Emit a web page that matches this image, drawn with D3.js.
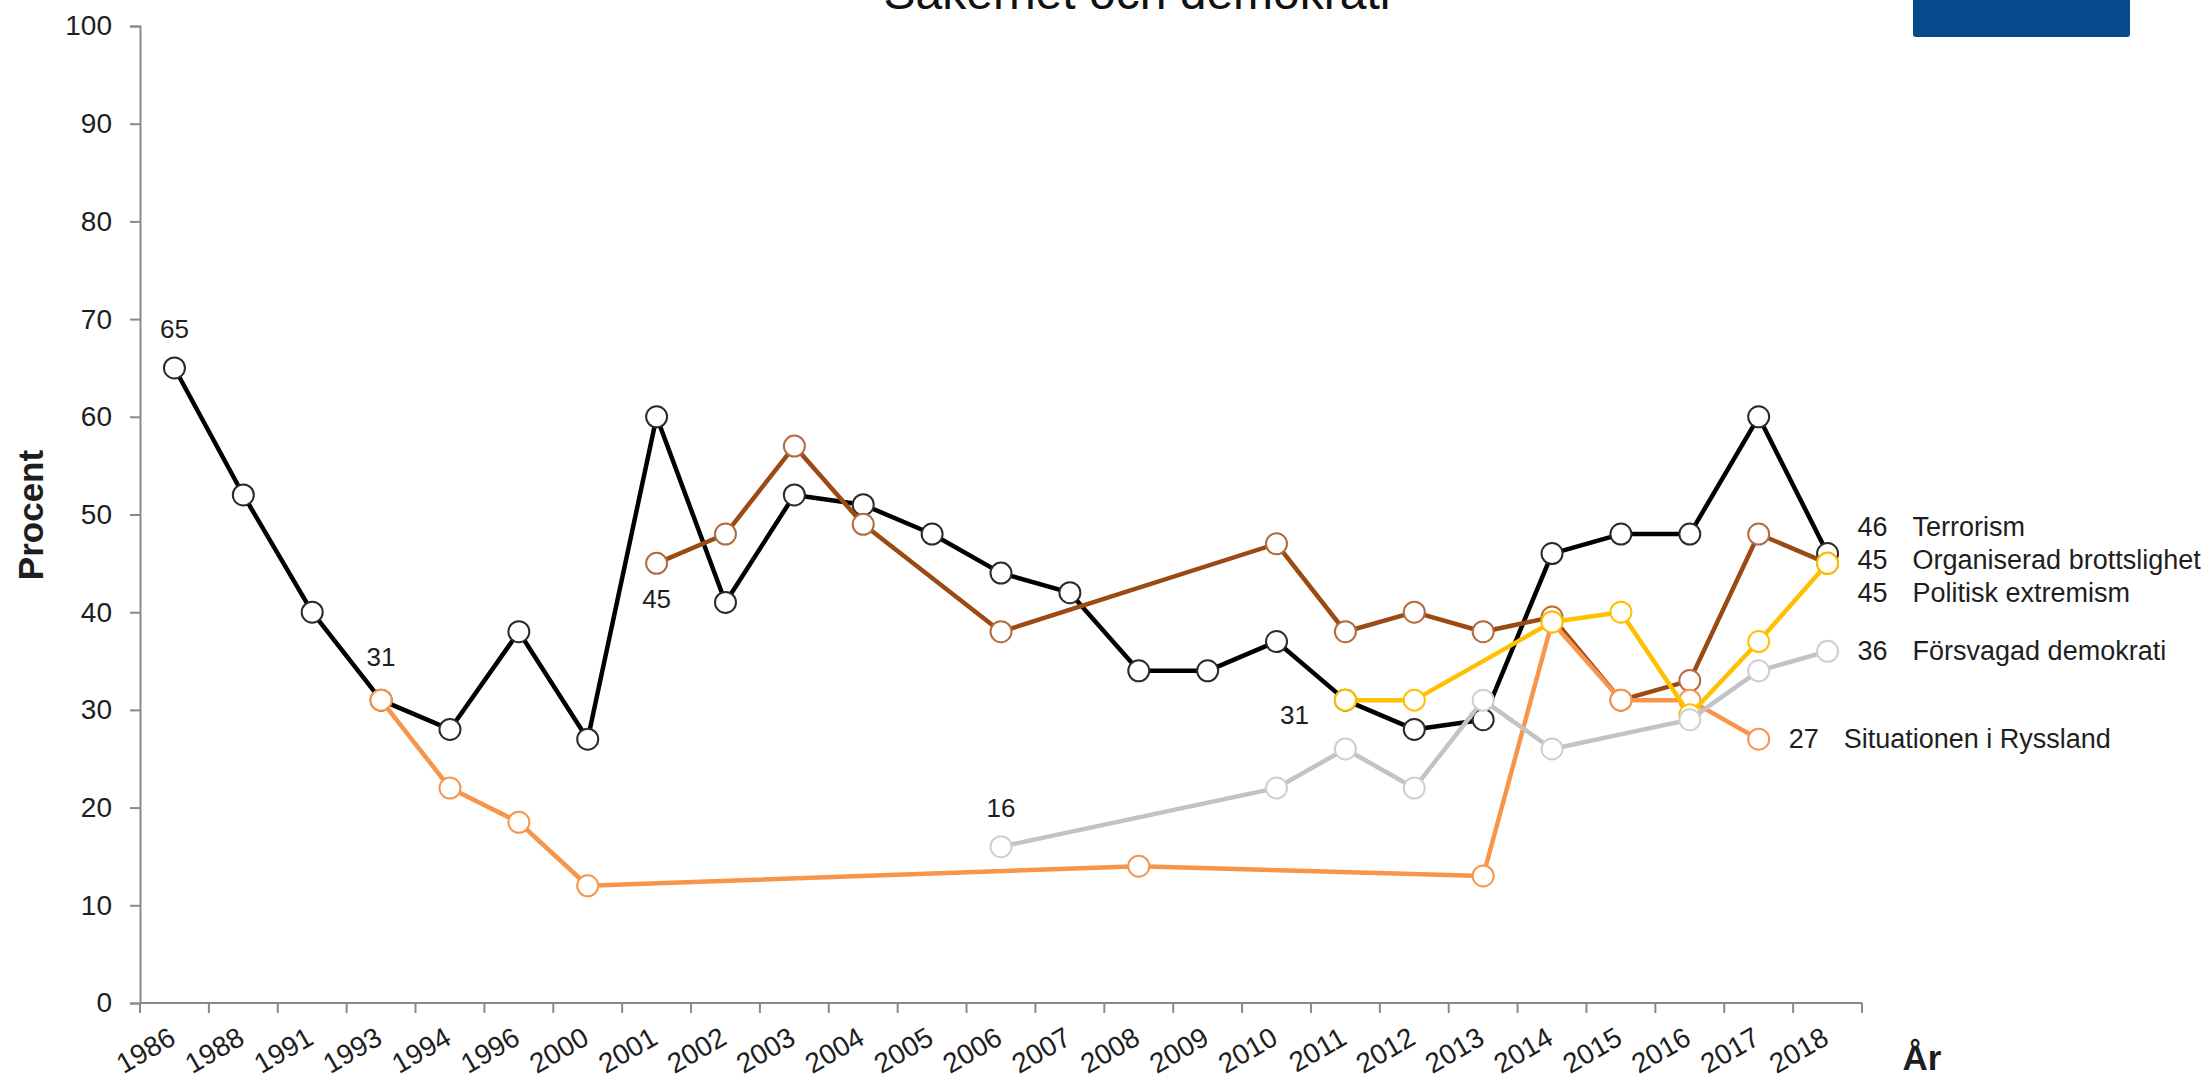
<!DOCTYPE html>
<html>
<head>
<meta charset="utf-8">
<script src="https://cdn.jsdelivr.net/npm/d3@7"></script>
<style>
  body { margin: 0; background: #fff; }
  svg { display: block; font-family: "Liberation Sans", Arial, sans-serif; }
</style>
</head>
<body>
<svg id="chart" width="2211" height="1079"></svg>
<script>
const years = ["1986", "1988", "1991", "1993", "1994", "1996", "2000", "2001", "2002", "2003", "2004", "2005", "2006",
  "2007", "2008", "2009", "2010", "2011", "2012", "2013", "2014", "2015", "2016", "2017", "2018"];
const yTicks = [0, 10, 20, 30, 40, 50, 60, 70, 80, 90, 100];

const seriesNames = ["Terrorism", "Organiserad brottslighet", "Situationen i Ryssland", "Politisk extremism", "Försvagad demokrati"];
const terrorism = [65, 52, 40, 31, 28, 38, 27, 60, 41, 52, 51, 48, 44, 42, 34, 34, 37, 31, 28, 29, 46, 48, 48, 60, 46];
const organiserad = [null, null, null, null, null, null, null, 45, 48, 57, 49, null, 38, null, null, null, 47, 38, 40, 38, 39.5, 31, 33, 48, 45];
const ryssland = [null, null, null, 31, 22, 18.5, 12, null, null, null, null, null, null, null, 14, null, null, null, null, 13, 39, 31, 31, 27, null];
const politisk = [null, null, null, null, null, null, null, null, null, null, null, null, null, null, null, null, null, 31, 31, null, 39, 40, 29.5, 37, 45];
const forsvagad = [null, null, null, null, null, null, null, null, null, null, null, null, 16, null, null, null, 22, 26, 22, 31, 26, null, 29, 34, 36];
const endValues = [46, 45, 27, 45, 36];

// inline value labels: [series, year, text]
const notes = [
  ["Terrorism", "1986", "65"],
  ["Terrorism", "1993", "31"],
  ["Organiserad brottslighet", "2001", "45"],
  ["Försvagad demokrati", "2006", "16"],
  ["Politisk extremism", "2011", "31"],
];

const values = [terrorism, organiserad, ryssland, politisk, forsvagad];
const lineColor = ["#000000", "#9a4a12", "#f7954a", "#ffc000", "#c3c3c3"];
const markColor = ["#2a2a2a", "#b36a3e", "#f7954a", "#ffc000", "#cfcfcf"];
const noteOffset = { "1986": [0, -39], "1993": [0, -43], "2001": [0, 36], "2006": [0, -39], "2011": [-51, 15] };

const svg = d3.select("#chart");
const plotLeft = 140, plotRight = 1862, plotTop = 26, plotBottom = 1003;
const textColor = "#1e1e1e";
const axisColor = "#8a8a8a";

const x = d3.scaleBand().domain(years).range([plotLeft, plotRight]).padding(0);
const cx = (yr) => x(yr) + x.bandwidth() / 2;
const y = d3.scaleLinear().domain([0, 100]).range([plotBottom, plotTop]);

// title (cut off at the top) and blue box
svg.append("text")
  .attr("x", 1137).attr("y", 9)
  .attr("text-anchor", "middle")
  .attr("font-size", 48)
  .attr("fill", "#111")
  .text("Säkerhet och demokrati");

svg.append("rect")
  .attr("x", 1913).attr("y", -6)
  .attr("width", 217).attr("height", 43)
  .attr("rx", 3)
  .attr("fill", "#064a8c");

// y axis
const yAxis = svg.append("g")
  .attr("transform", `translate(${plotLeft},0)`)
  .call(d3.axisLeft(y).tickValues(yTicks).tickSize(10).tickPadding(18));
yAxis.select(".domain").attr("stroke", axisColor).attr("stroke-width", 2);
yAxis.selectAll(".tick line").attr("stroke", axisColor).attr("stroke-width", 2);
yAxis.selectAll(".tick text")
  .attr("font-size", 28)
  .attr("font-family", "Liberation Sans, Arial, sans-serif")
  .attr("fill", textColor);

// x axis: ticks at category boundaries, labels at centres
const xg = svg.append("g");
xg.append("line")
  .attr("x1", plotLeft).attr("x2", plotRight)
  .attr("y1", plotBottom).attr("y2", plotBottom)
  .attr("stroke", axisColor).attr("stroke-width", 2);
xg.selectAll("line.tick")
  .data([...years.map((d) => x(d)), plotRight])
  .join("line")
  .attr("class", "tick")
  .attr("x1", (d) => d).attr("x2", (d) => d)
  .attr("y1", plotBottom).attr("y2", plotBottom + 10)
  .attr("stroke", axisColor).attr("stroke-width", 2);
xg.selectAll("text")
  .data(years)
  .join("text")
  .attr("transform", (d) => `translate(${cx(d) + 3},${plotBottom + 40}) rotate(-30)`)
  .attr("text-anchor", "end")
  .attr("font-size", 28)
  .attr("fill", textColor)
  .text((d) => d);

// axis titles
svg.append("text")
  .attr("transform", `translate(43,515) rotate(-90)`)
  .attr("text-anchor", "middle")
  .attr("font-size", 35)
  .attr("font-weight", "bold")
  .attr("fill", textColor)
  .text("Procent");

svg.append("text")
  .attr("x", 1922).attr("y", 1070)
  .attr("text-anchor", "middle")
  .attr("font-size", 35)
  .attr("font-weight", "bold")
  .attr("fill", textColor)
  .text("År");

// series
const line = d3.line().x((d) => cx(d.year)).y((d) => y(d.value));
const series = seriesNames.map((name, i) => ({
  name,
  i,
  points: years.map((yr, j) => ({ year: yr, value: values[i][j] })).filter((d) => d.value !== null),
}));

const plot = svg.append("g");
series.forEach((s) => {
  const g = plot.append("g");
  g.append("path")
    .attr("d", line(s.points))
    .attr("fill", "none")
    .attr("stroke", lineColor[s.i])
    .attr("stroke-width", 4.5)
    .attr("stroke-linejoin", "round");
  g.selectAll("circle")
    .data(s.points)
    .join("circle")
    .attr("cx", (d) => cx(d.year))
    .attr("cy", (d) => y(d.value))
    .attr("r", 10.5)
    .attr("fill", "#fff")
    .attr("stroke", markColor[s.i])
    .attr("stroke-width", 2);
});

// inline notes
svg.selectAll("text.note")
  .data(notes)
  .join("text")
  .attr("class", "note")
  .attr("x", (d) => cx(d[1]) + noteOffset[d[1]][0])
  .attr("y", (d) => {
    const s = series.find((e) => e.name === d[0]);
    const p = s.points.find((e) => e.year === d[1]);
    return y(p.value) + noteOffset[d[1]][1];
  })
  .attr("text-anchor", "middle")
  .attr("dominant-baseline", "central")
  .attr("font-size", 26)
  .attr("fill", textColor)
  .text((d) => d[2]);

// end labels, spread apart where they collide
const ends = series.map((s) => {
  const last = s.points[s.points.length - 1];
  return { name: s.name, value: endValues[s.i], x: cx(last.year), want: y(last.value), year: last.year };
});
const gap = 33;
const byYear = d3.groups(ends, (d) => d.year);
byYear.forEach(([, list]) => {
  list.sort((a, b) => a.want - b.want);
  let groups = list.map((d) => ({ items: [d], mean: d.want }));
  let merged = true;
  while (merged) {
    merged = false;
    for (let k = 0; k < groups.length - 1; k++) {
      const a = groups[k], b = groups[k + 1];
      const aEnd = a.mean + ((a.items.length - 1) / 2) * gap;
      const bStart = b.mean - ((b.items.length - 1) / 2) * gap;
      if (bStart - aEnd < gap) {
        const items = a.items.concat(b.items);
        groups.splice(k, 2, { items, mean: d3.mean(items, (d) => d.want) });
        merged = true;
        break;
      }
    }
  }
  groups.forEach((g) => {
    g.items.forEach((d, k) => {
      d.ly = g.mean + (k - (g.items.length - 1) / 2) * gap;
    });
  });
});

const endG = svg.append("g");
endG.selectAll("text.num")
  .data(ends)
  .join("text")
  .attr("class", "num")
  .attr("x", (d) => d.x + 30)
  .attr("y", (d) => d.ly)
  .attr("dominant-baseline", "central")
  .attr("font-size", 27)
  .attr("fill", textColor)
  .text((d) => d.value);
endG.selectAll("text.name")
  .data(ends)
  .join("text")
  .attr("class", "name")
  .attr("x", (d) => d.x + 85)
  .attr("y", (d) => d.ly)
  .attr("dominant-baseline", "central")
  .attr("font-size", 27)
  .attr("fill", textColor)
  .text((d) => d.name);
</script>
</body>
</html>
